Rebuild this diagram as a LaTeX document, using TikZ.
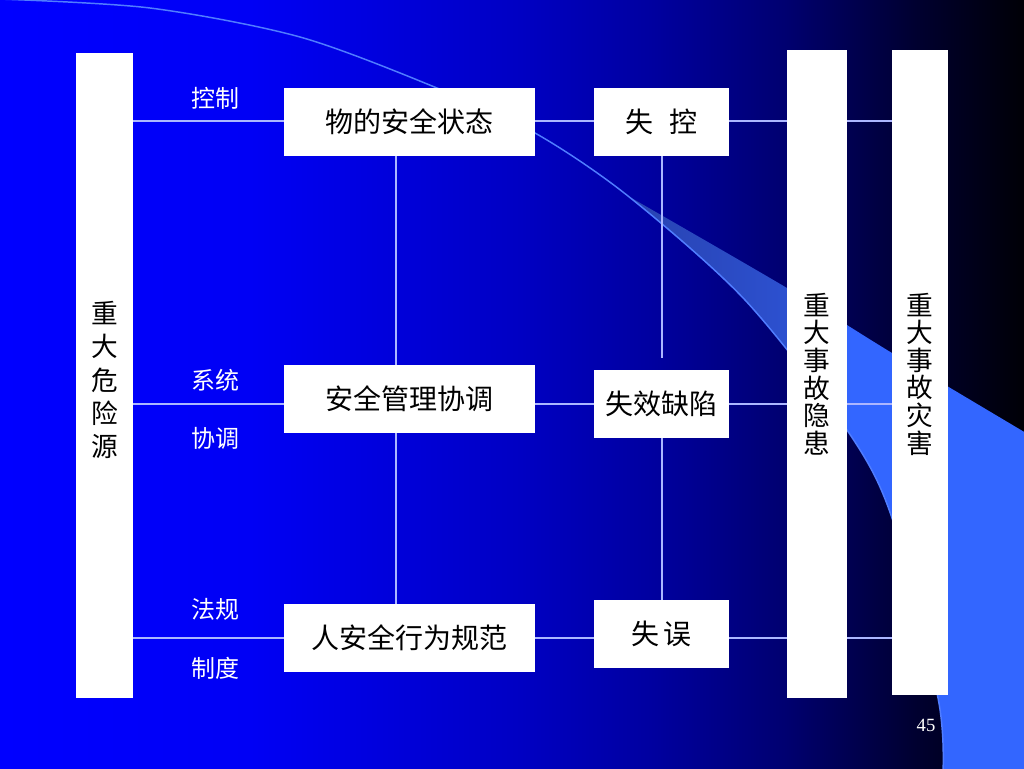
\documentclass[tikz,border=0pt]{standalone}
\usepackage{fontspec}
\setmainfont{Liberation Serif}
\newfontfamily\cjk{Noto Sans CJK SC}
\definecolor{bgA}{RGB}{0,0,255}
\definecolor{bgB}{RGB}{0,0,245}
\definecolor{bgC}{RGB}{0,0,195}
\definecolor{bgD}{RGB}{0,0,160}
\definecolor{bgE}{RGB}{0,0,112}
\definecolor{bgF}{RGB}{0,0,48}
\definecolor{bgG}{RGB}{0,0,6}
\definecolor{wedgeA}{RGB}{40,66,176}
\definecolor{wedgeB}{RGB}{51,102,255}
\definecolor{swoosh}{RGB}{80,125,255}
\definecolor{linec}{RGB}{172,182,255}
\pgfdeclarehorizontalshading{bgshade}{100bp}{color(0bp)=(bgA); color(25bp)=(bgA); color(37.2bp)=(bgB); color(50.4bp)=(bgC); color(56.75bp)=(bgD); color(63.35bp)=(bgE); color(69.7bp)=(bgF); color(75bp)=(bgG); color(100bp)=(bgG)}
\pgfdeclarehorizontalshading{wedgeshade}{100bp}{color(0bp)=(wedgeA); color(25bp)=(wedgeA); color(45bp)=(wedgeA!60!wedgeB); color(53bp)=(wedgeB); color(100bp)=(wedgeB)}
\tikzset{
  box/.style={fill=white, inner sep=0pt, text=black, font=\cjk\fontsize{21}{25}\selectfont, minimum height=51pt},
  widebox/.style={box, minimum width=188.25pt},
  narrowbox/.style={box, minimum width=101.25pt},
  pillar/.style={fill=white, inner sep=0pt},
  ptext/.style={inner sep=0pt, text=black, align=center},
  lbl/.style={text=white, inner sep=0pt, font=\cjk\fontsize{18}{20}\selectfont},
  conn/.style={draw=linec, line width=1.1pt},
  vconn/.style={draw=linec, line width=0.8pt},
  swline/.style={draw=swoosh, line width=1.1pt}
}
\begin{document}
\begin{tikzpicture}[x=0.75pt,y=-0.75pt]
\useasboundingbox (0,0) rectangle (1024,768);
\shade[shading=bgshade] (0,0) rectangle (1024,768);
% decorative swoosh
\shade[shading=wedgeshade] plot[smooth] coordinates {(628,196) (787,288) (892,353) (1026,433)} -- (1026,770) -- (943,770)
  -- plot[smooth] coordinates {(943,770) (938,698) (892,518) (847,430) (745,300) (628,196)} -- cycle;
\draw[swline] plot[smooth] coordinates {(-2,-1) (150,8) (300,37) (437,88) (535,133) (628,196) (745,300) (847,430) (892,518) (938,698) (943,772)};

% pillars
\node[pillar, minimum width=42.75pt, minimum height=483.75pt] (L) at (104.5,375.5) {};
\node[pillar, minimum width=45pt, minimum height=486pt] (R1) at (817,374) {};
\node[pillar, minimum width=42pt, minimum height=483.75pt] (R2) at (920,372.5) {};
\node[ptext, font=\cjk\fontsize{20}{25}\selectfont] (Lt) at (104.5,380) {重\\大\\危\\险\\源};
\node[ptext, font=\cjk\fontsize{20}{20.7}\selectfont] (R1t) at (817,374) {重\\大\\事\\故\\隐\\患};
\node[ptext, font=\cjk\fontsize{20}{20.7}\selectfont] (R2t) at (920,374) {重\\大\\事\\故\\灾\\害};

% boxes
\node[widebox] (wu) at (409.5,122) {物的安全状态};
\node[narrowbox] (sk) at (661.5,122) {失\hspace{0.57em}控};
\node[widebox] (aq) at (409.5,399) {安全管理协调};
\node[narrowbox] (sx) at (661.5,404) {失效缺陷};
\node[widebox] (rq) at (409.5,638) {人安全行为规范};
\node[narrowbox] (sw) at (661.5,634) {失\hspace{0.15em}误};

% row coordinates
\coordinate (y1) at (0,121);
\coordinate (y2) at (0,404);
\coordinate (y3) at (0,638);
\coordinate (vx1) at (396,0);
\coordinate (g1) at (662,358);

% horizontal connectors
\draw[conn] (L.east |- y1) -- (wu.west |- y1);
\draw[conn] (wu.east |- y1) -- (sk.west |- y1);
\draw[conn] (sk.east |- y1) -- (R1.west |- y1);
\draw[conn] (R1.east |- y1) -- (R2.west |- y1);
\draw[conn] (L.east |- y2) -- (aq.west |- y2);
\draw[conn] (aq.east |- y2) -- (sx.west |- y2);
\draw[conn] (sx.east |- y2) -- (R1.west |- y2);
\draw[conn] (R1.east |- y2) -- (R2.west |- y2);
\draw[conn] (L.east |- y3) -- (rq.west |- y3);
\draw[conn] (rq.east |- y3) -- (sw.west |- y3);
\draw[conn] (sw.east |- y3) -- (R1.west |- y3);
\draw[conn] (R1.east |- y3) -- (R2.west |- y3);

% vertical connectors
\draw[vconn] (wu.south -| vx1) -- (aq.north -| vx1);
\draw[vconn] (aq.south -| vx1) -- (rq.north -| vx1);
\draw[vconn] (sk.south -| g1) -- (g1);
\draw[vconn] (sx.south -| g1) -- (sw.north -| g1);

% labels
\node[lbl] (l1) at (215,98) {控制};
\node[lbl] (l2) at (215,380) {系统};
\node[lbl] (l3) at (215,438) {协调};
\node[lbl] (l4) at (215,609) {法规};
\node[lbl] (l5) at (215,668) {制度};

\node[text=white, inner sep=0pt, font=\fontsize{14}{14}\selectfont] (pg) at (926,725) {45};
\end{tikzpicture}
\end{document}
